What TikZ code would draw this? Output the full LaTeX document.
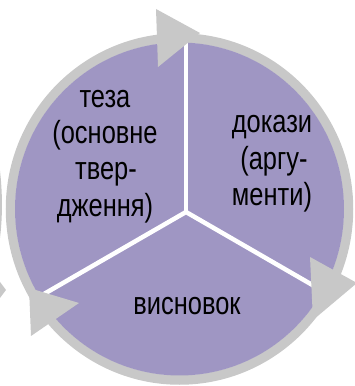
\documentclass[tikz,border=0pt]{standalone}
\usepackage{fontspec}
\usetikzlibrary{calc}
\setmainfont{Liberation Sans}[FakeStretch=0.795]
\definecolor{disk}{HTML}{9F96C3}
\definecolor{ringgray}{HTML}{C8C8C8}
\begin{document}
\begin{tikzpicture}[x=1pt,y=1pt,
  lbl/.style={anchor=base,inner sep=0pt,font=\fontsize{32}{36}\selectfont,text=black},
  sep/.style={draw=white,line width=4.5pt},
  head/.style={fill=ringgray,draw=none}]
\useasboundingbox (0,0) rectangle (354,386);
\coordinate (c) at (179.5,177);
\coordinate (j) at (186,174);
% partial shapes at the left border
\fill[ringgray] (0,215) .. controls (2.6,192) and (2.6,170) .. (0,148) -- cycle;
\fill[ringgray] (0,104) -- (6,96) -- (0,88) -- cycle;
% ring
\draw[ringgray,line width=9.5pt] (c) ellipse[x radius=169, y radius=171];
% disk
\fill[disk] (c) ellipse[x radius=164.5, y radius=166.5];
% separators
\begin{scope}
\clip (c) ellipse[x radius=164.5, y radius=166.5];
\coordinate (e1) at ($(j)+(90:220)$);
\coordinate (e2) at ($(j)+(-30:220)$);
\coordinate (e3) at ($(j)+(210:220)$);
\draw[sep] (j) -- (e1);
\draw[sep] (j) -- (e2);
\draw[sep] (j) -- (e3);
\end{scope}
% arrow heads
\fill[head] (156,377) -- (200,353) -- (158,319) -- cycle;
\fill[head] (310,129) -- (357,103) -- (313,66) -- cycle;
\fill[head] (29,98) -- (79,83) -- (31,50) -- cycle;
% labels
\node[lbl] (t1) at (105,278) {теза};
\node[lbl] (t2) at (105,242.5) {(основне};
\node[lbl] (t3) at (106,206) {твер-};
\node[lbl] (t4) at (105,169.5) {дження)};
\node[lbl] (d1) at (272,253) {докази};
\node[lbl] (d2) at (274,216.5) {(аргу-};
\node[lbl] (d3) at (272,180) {менти)};
\node[lbl] (v1) at (187,71) {висновок};
\end{tikzpicture}
\end{document}
